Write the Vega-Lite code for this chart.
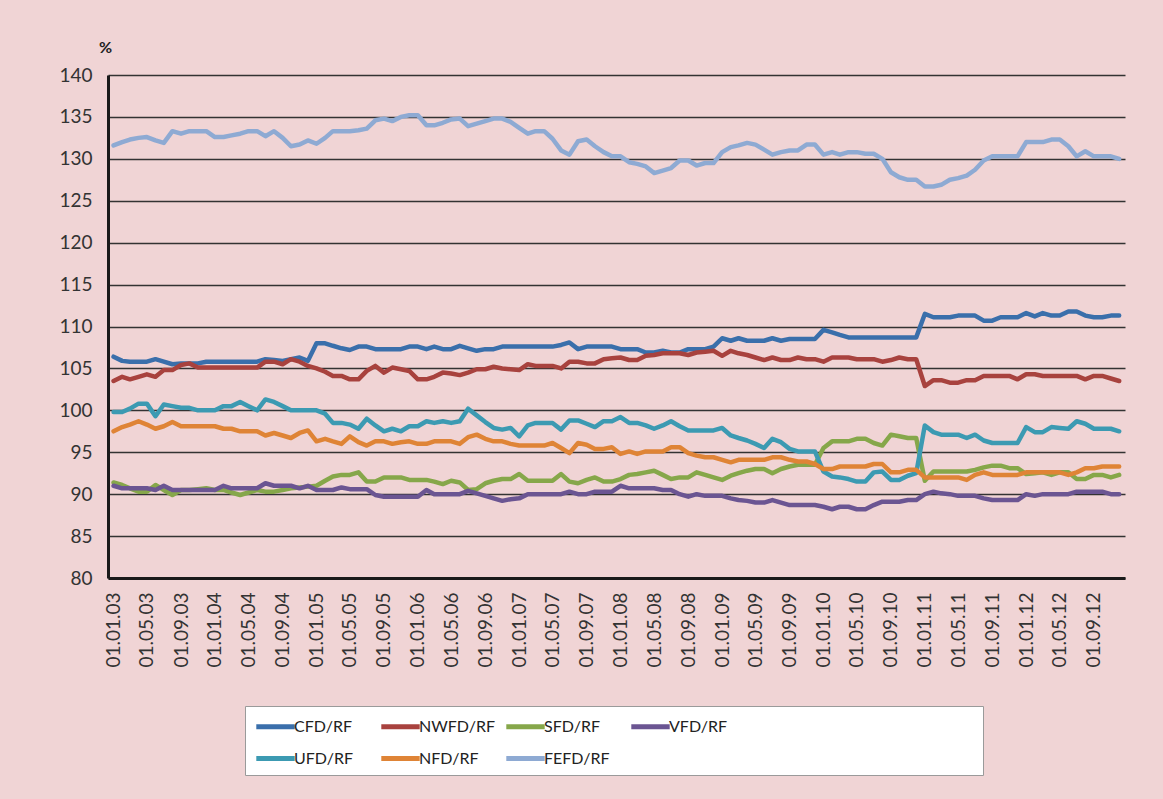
{
"$schema": "https://vega.github.io/schema/vega-lite/v6.json",
"width": 1017, "height": 503,
"autosize": "none",
"padding": {"left": 108, "top": 75, "right": 38, "bottom": 221},
"background": "#F0D4D5",
"view": {"stroke": null},
"config": {"font": "Lato"},
"data": {"values": [
{"d":"2003/01/01","CFD/RF":106.4,"NWFD/RF":103.5,"SFD/RF":91.4,"VFD/RF":91.0,"UFD/RF":99.8,"NFD/RF":97.5,"FEFD/RF":131.6},
{"d":"2003/02/01","CFD/RF":105.9,"NWFD/RF":104.0,"SFD/RF":91.1,"VFD/RF":90.7,"UFD/RF":99.8,"NFD/RF":98.0,"FEFD/RF":132.0},
{"d":"2003/03/01","CFD/RF":105.8,"NWFD/RF":103.7,"SFD/RF":90.7,"VFD/RF":90.7,"UFD/RF":100.2,"NFD/RF":98.3,"FEFD/RF":132.3},
{"d":"2003/04/01","CFD/RF":105.8,"NWFD/RF":104.0,"SFD/RF":90.3,"VFD/RF":90.7,"UFD/RF":100.8,"NFD/RF":98.7,"FEFD/RF":132.5},
{"d":"2003/05/01","CFD/RF":105.8,"NWFD/RF":104.3,"SFD/RF":90.3,"VFD/RF":90.7,"UFD/RF":100.8,"NFD/RF":98.3,"FEFD/RF":132.6},
{"d":"2003/06/01","CFD/RF":106.1,"NWFD/RF":104.0,"SFD/RF":91.1,"VFD/RF":90.5,"UFD/RF":99.3,"NFD/RF":97.8,"FEFD/RF":132.2},
{"d":"2003/07/01","CFD/RF":105.8,"NWFD/RF":104.8,"SFD/RF":90.5,"VFD/RF":91.0,"UFD/RF":100.7,"NFD/RF":98.1,"FEFD/RF":131.9},
{"d":"2003/08/01","CFD/RF":105.5,"NWFD/RF":104.8,"SFD/RF":89.9,"VFD/RF":90.5,"UFD/RF":100.5,"NFD/RF":98.6,"FEFD/RF":133.3},
{"d":"2003/09/01","CFD/RF":105.6,"NWFD/RF":105.4,"SFD/RF":90.5,"VFD/RF":90.5,"UFD/RF":100.3,"NFD/RF":98.1,"FEFD/RF":133.0},
{"d":"2003/10/01","CFD/RF":105.6,"NWFD/RF":105.6,"SFD/RF":90.5,"VFD/RF":90.5,"UFD/RF":100.3,"NFD/RF":98.1,"FEFD/RF":133.3},
{"d":"2003/11/01","CFD/RF":105.6,"NWFD/RF":105.1,"SFD/RF":90.6,"VFD/RF":90.5,"UFD/RF":100.0,"NFD/RF":98.1,"FEFD/RF":133.3},
{"d":"2003/12/01","CFD/RF":105.8,"NWFD/RF":105.1,"SFD/RF":90.7,"VFD/RF":90.5,"UFD/RF":100.0,"NFD/RF":98.1,"FEFD/RF":133.3},
{"d":"2004/01/01","CFD/RF":105.8,"NWFD/RF":105.1,"SFD/RF":90.5,"VFD/RF":90.5,"UFD/RF":100.0,"NFD/RF":98.1,"FEFD/RF":132.6},
{"d":"2004/02/01","CFD/RF":105.8,"NWFD/RF":105.1,"SFD/RF":90.5,"VFD/RF":91.0,"UFD/RF":100.5,"NFD/RF":97.8,"FEFD/RF":132.6},
{"d":"2004/03/01","CFD/RF":105.8,"NWFD/RF":105.1,"SFD/RF":90.2,"VFD/RF":90.7,"UFD/RF":100.5,"NFD/RF":97.8,"FEFD/RF":132.8},
{"d":"2004/04/01","CFD/RF":105.8,"NWFD/RF":105.1,"SFD/RF":89.9,"VFD/RF":90.7,"UFD/RF":101.0,"NFD/RF":97.5,"FEFD/RF":133.0},
{"d":"2004/05/01","CFD/RF":105.8,"NWFD/RF":105.1,"SFD/RF":90.2,"VFD/RF":90.7,"UFD/RF":100.5,"NFD/RF":97.5,"FEFD/RF":133.3},
{"d":"2004/06/01","CFD/RF":105.8,"NWFD/RF":105.1,"SFD/RF":90.5,"VFD/RF":90.7,"UFD/RF":100.0,"NFD/RF":97.5,"FEFD/RF":133.3},
{"d":"2004/07/01","CFD/RF":106.1,"NWFD/RF":105.8,"SFD/RF":90.3,"VFD/RF":91.3,"UFD/RF":101.3,"NFD/RF":97.0,"FEFD/RF":132.7},
{"d":"2004/08/01","CFD/RF":106.0,"NWFD/RF":105.8,"SFD/RF":90.3,"VFD/RF":91.0,"UFD/RF":101.0,"NFD/RF":97.3,"FEFD/RF":133.3},
{"d":"2004/09/01","CFD/RF":105.9,"NWFD/RF":105.5,"SFD/RF":90.5,"VFD/RF":91.0,"UFD/RF":100.5,"NFD/RF":97.0,"FEFD/RF":132.5},
{"d":"2004/10/01","CFD/RF":106.1,"NWFD/RF":106.1,"SFD/RF":90.7,"VFD/RF":91.0,"UFD/RF":100.0,"NFD/RF":96.7,"FEFD/RF":131.5},
{"d":"2004/11/01","CFD/RF":106.3,"NWFD/RF":105.8,"SFD/RF":90.8,"VFD/RF":90.7,"UFD/RF":100.0,"NFD/RF":97.3,"FEFD/RF":131.7},
{"d":"2004/12/01","CFD/RF":105.9,"NWFD/RF":105.3,"SFD/RF":90.9,"VFD/RF":91.0,"UFD/RF":100.0,"NFD/RF":97.6,"FEFD/RF":132.2},
{"d":"2005/01/01","CFD/RF":108.0,"NWFD/RF":105.0,"SFD/RF":91.0,"VFD/RF":90.5,"UFD/RF":100.0,"NFD/RF":96.3,"FEFD/RF":131.8},
{"d":"2005/02/01","CFD/RF":108.0,"NWFD/RF":104.6,"SFD/RF":91.6,"VFD/RF":90.5,"UFD/RF":99.6,"NFD/RF":96.6,"FEFD/RF":132.5},
{"d":"2005/03/01","CFD/RF":107.7,"NWFD/RF":104.1,"SFD/RF":92.1,"VFD/RF":90.5,"UFD/RF":98.5,"NFD/RF":96.3,"FEFD/RF":133.3},
{"d":"2005/04/01","CFD/RF":107.4,"NWFD/RF":104.1,"SFD/RF":92.3,"VFD/RF":90.8,"UFD/RF":98.5,"NFD/RF":96.0,"FEFD/RF":133.3},
{"d":"2005/05/01","CFD/RF":107.2,"NWFD/RF":103.7,"SFD/RF":92.3,"VFD/RF":90.6,"UFD/RF":98.3,"NFD/RF":96.9,"FEFD/RF":133.3},
{"d":"2005/06/01","CFD/RF":107.6,"NWFD/RF":103.7,"SFD/RF":92.6,"VFD/RF":90.6,"UFD/RF":97.8,"NFD/RF":96.2,"FEFD/RF":133.4},
{"d":"2005/07/01","CFD/RF":107.6,"NWFD/RF":104.7,"SFD/RF":91.5,"VFD/RF":90.6,"UFD/RF":99.0,"NFD/RF":95.8,"FEFD/RF":133.6},
{"d":"2005/08/01","CFD/RF":107.3,"NWFD/RF":105.3,"SFD/RF":91.5,"VFD/RF":89.9,"UFD/RF":98.2,"NFD/RF":96.3,"FEFD/RF":134.6},
{"d":"2005/09/01","CFD/RF":107.3,"NWFD/RF":104.5,"SFD/RF":92.0,"VFD/RF":89.7,"UFD/RF":97.5,"NFD/RF":96.3,"FEFD/RF":134.8},
{"d":"2005/10/01","CFD/RF":107.3,"NWFD/RF":105.1,"SFD/RF":92.0,"VFD/RF":89.7,"UFD/RF":97.8,"NFD/RF":96.0,"FEFD/RF":134.5},
{"d":"2005/11/01","CFD/RF":107.3,"NWFD/RF":104.9,"SFD/RF":92.0,"VFD/RF":89.7,"UFD/RF":97.5,"NFD/RF":96.2,"FEFD/RF":135.0},
{"d":"2005/12/01","CFD/RF":107.6,"NWFD/RF":104.7,"SFD/RF":91.7,"VFD/RF":89.7,"UFD/RF":98.1,"NFD/RF":96.3,"FEFD/RF":135.2},
{"d":"2006/01/01","CFD/RF":107.6,"NWFD/RF":103.7,"SFD/RF":91.7,"VFD/RF":89.7,"UFD/RF":98.1,"NFD/RF":96.0,"FEFD/RF":135.2},
{"d":"2006/02/01","CFD/RF":107.3,"NWFD/RF":103.7,"SFD/RF":91.7,"VFD/RF":90.5,"UFD/RF":98.7,"NFD/RF":96.0,"FEFD/RF":134.0},
{"d":"2006/03/01","CFD/RF":107.6,"NWFD/RF":104.0,"SFD/RF":91.5,"VFD/RF":90.0,"UFD/RF":98.5,"NFD/RF":96.3,"FEFD/RF":134.0},
{"d":"2006/04/01","CFD/RF":107.3,"NWFD/RF":104.5,"SFD/RF":91.2,"VFD/RF":90.0,"UFD/RF":98.7,"NFD/RF":96.3,"FEFD/RF":134.3},
{"d":"2006/05/01","CFD/RF":107.3,"NWFD/RF":104.4,"SFD/RF":91.6,"VFD/RF":90.0,"UFD/RF":98.5,"NFD/RF":96.3,"FEFD/RF":134.7},
{"d":"2006/06/01","CFD/RF":107.7,"NWFD/RF":104.2,"SFD/RF":91.4,"VFD/RF":90.0,"UFD/RF":98.7,"NFD/RF":96.0,"FEFD/RF":134.8},
{"d":"2006/07/01","CFD/RF":107.4,"NWFD/RF":104.5,"SFD/RF":90.5,"VFD/RF":90.4,"UFD/RF":100.2,"NFD/RF":96.8,"FEFD/RF":133.9},
{"d":"2006/08/01","CFD/RF":107.1,"NWFD/RF":104.9,"SFD/RF":90.6,"VFD/RF":90.1,"UFD/RF":99.4,"NFD/RF":97.1,"FEFD/RF":134.2},
{"d":"2006/09/01","CFD/RF":107.3,"NWFD/RF":104.9,"SFD/RF":91.3,"VFD/RF":89.8,"UFD/RF":98.6,"NFD/RF":96.6,"FEFD/RF":134.5},
{"d":"2006/10/01","CFD/RF":107.3,"NWFD/RF":105.2,"SFD/RF":91.6,"VFD/RF":89.5,"UFD/RF":97.9,"NFD/RF":96.3,"FEFD/RF":134.8},
{"d":"2006/11/01","CFD/RF":107.6,"NWFD/RF":105.0,"SFD/RF":91.8,"VFD/RF":89.2,"UFD/RF":97.7,"NFD/RF":96.3,"FEFD/RF":134.8},
{"d":"2006/12/01","CFD/RF":107.6,"NWFD/RF":104.9,"SFD/RF":91.8,"VFD/RF":89.4,"UFD/RF":97.9,"NFD/RF":96.0,"FEFD/RF":134.4},
{"d":"2007/01/01","CFD/RF":107.6,"NWFD/RF":104.8,"SFD/RF":92.4,"VFD/RF":89.5,"UFD/RF":96.9,"NFD/RF":95.8,"FEFD/RF":133.7},
{"d":"2007/02/01","CFD/RF":107.6,"NWFD/RF":105.5,"SFD/RF":91.6,"VFD/RF":90.0,"UFD/RF":98.2,"NFD/RF":95.8,"FEFD/RF":133.0},
{"d":"2007/03/01","CFD/RF":107.6,"NWFD/RF":105.3,"SFD/RF":91.6,"VFD/RF":90.0,"UFD/RF":98.5,"NFD/RF":95.8,"FEFD/RF":133.3},
{"d":"2007/04/01","CFD/RF":107.6,"NWFD/RF":105.3,"SFD/RF":91.6,"VFD/RF":90.0,"UFD/RF":98.5,"NFD/RF":95.8,"FEFD/RF":133.3},
{"d":"2007/05/01","CFD/RF":107.6,"NWFD/RF":105.3,"SFD/RF":91.6,"VFD/RF":90.0,"UFD/RF":98.5,"NFD/RF":96.1,"FEFD/RF":132.4},
{"d":"2007/06/01","CFD/RF":107.8,"NWFD/RF":105.0,"SFD/RF":92.4,"VFD/RF":90.0,"UFD/RF":97.7,"NFD/RF":95.5,"FEFD/RF":131.0},
{"d":"2007/07/01","CFD/RF":108.1,"NWFD/RF":105.8,"SFD/RF":91.5,"VFD/RF":90.3,"UFD/RF":98.8,"NFD/RF":94.9,"FEFD/RF":130.5},
{"d":"2007/08/01","CFD/RF":107.3,"NWFD/RF":105.8,"SFD/RF":91.3,"VFD/RF":90.0,"UFD/RF":98.8,"NFD/RF":96.1,"FEFD/RF":132.1},
{"d":"2007/09/01","CFD/RF":107.6,"NWFD/RF":105.6,"SFD/RF":91.7,"VFD/RF":90.0,"UFD/RF":98.4,"NFD/RF":95.9,"FEFD/RF":132.3},
{"d":"2007/10/01","CFD/RF":107.6,"NWFD/RF":105.6,"SFD/RF":92.0,"VFD/RF":90.3,"UFD/RF":98.0,"NFD/RF":95.4,"FEFD/RF":131.5},
{"d":"2007/11/01","CFD/RF":107.6,"NWFD/RF":106.1,"SFD/RF":91.5,"VFD/RF":90.3,"UFD/RF":98.7,"NFD/RF":95.4,"FEFD/RF":130.8},
{"d":"2007/12/01","CFD/RF":107.6,"NWFD/RF":106.2,"SFD/RF":91.5,"VFD/RF":90.3,"UFD/RF":98.7,"NFD/RF":95.6,"FEFD/RF":130.3},
{"d":"2008/01/01","CFD/RF":107.3,"NWFD/RF":106.3,"SFD/RF":91.8,"VFD/RF":91.0,"UFD/RF":99.2,"NFD/RF":94.8,"FEFD/RF":130.3},
{"d":"2008/02/01","CFD/RF":107.3,"NWFD/RF":106.0,"SFD/RF":92.3,"VFD/RF":90.7,"UFD/RF":98.5,"NFD/RF":95.1,"FEFD/RF":129.6},
{"d":"2008/03/01","CFD/RF":107.3,"NWFD/RF":106.0,"SFD/RF":92.4,"VFD/RF":90.7,"UFD/RF":98.5,"NFD/RF":94.8,"FEFD/RF":129.4},
{"d":"2008/04/01","CFD/RF":106.9,"NWFD/RF":106.5,"SFD/RF":92.6,"VFD/RF":90.7,"UFD/RF":98.2,"NFD/RF":95.1,"FEFD/RF":129.1},
{"d":"2008/05/01","CFD/RF":106.9,"NWFD/RF":106.6,"SFD/RF":92.8,"VFD/RF":90.7,"UFD/RF":97.8,"NFD/RF":95.1,"FEFD/RF":128.3},
{"d":"2008/06/01","CFD/RF":107.1,"NWFD/RF":106.8,"SFD/RF":92.3,"VFD/RF":90.5,"UFD/RF":98.2,"NFD/RF":95.1,"FEFD/RF":128.6},
{"d":"2008/07/01","CFD/RF":106.9,"NWFD/RF":106.8,"SFD/RF":91.8,"VFD/RF":90.5,"UFD/RF":98.7,"NFD/RF":95.6,"FEFD/RF":128.9},
{"d":"2008/08/01","CFD/RF":106.9,"NWFD/RF":106.8,"SFD/RF":92.0,"VFD/RF":90.0,"UFD/RF":98.1,"NFD/RF":95.6,"FEFD/RF":129.8},
{"d":"2008/09/01","CFD/RF":107.3,"NWFD/RF":106.6,"SFD/RF":92.0,"VFD/RF":89.7,"UFD/RF":97.6,"NFD/RF":94.9,"FEFD/RF":129.8},
{"d":"2008/10/01","CFD/RF":107.3,"NWFD/RF":106.9,"SFD/RF":92.6,"VFD/RF":90.0,"UFD/RF":97.6,"NFD/RF":94.6,"FEFD/RF":129.2},
{"d":"2008/11/01","CFD/RF":107.3,"NWFD/RF":107.0,"SFD/RF":92.3,"VFD/RF":89.8,"UFD/RF":97.6,"NFD/RF":94.4,"FEFD/RF":129.5},
{"d":"2008/12/01","CFD/RF":107.6,"NWFD/RF":107.1,"SFD/RF":92.0,"VFD/RF":89.8,"UFD/RF":97.6,"NFD/RF":94.4,"FEFD/RF":129.5},
{"d":"2009/01/01","CFD/RF":108.6,"NWFD/RF":106.5,"SFD/RF":91.7,"VFD/RF":89.8,"UFD/RF":97.9,"NFD/RF":94.1,"FEFD/RF":130.8},
{"d":"2009/02/01","CFD/RF":108.3,"NWFD/RF":107.1,"SFD/RF":92.2,"VFD/RF":89.5,"UFD/RF":97.0,"NFD/RF":93.8,"FEFD/RF":131.4},
{"d":"2009/03/01","CFD/RF":108.6,"NWFD/RF":106.8,"SFD/RF":92.5,"VFD/RF":89.3,"UFD/RF":96.7,"NFD/RF":94.1,"FEFD/RF":131.6},
{"d":"2009/04/01","CFD/RF":108.3,"NWFD/RF":106.6,"SFD/RF":92.8,"VFD/RF":89.2,"UFD/RF":96.4,"NFD/RF":94.1,"FEFD/RF":131.9},
{"d":"2009/05/01","CFD/RF":108.3,"NWFD/RF":106.3,"SFD/RF":93.0,"VFD/RF":89.0,"UFD/RF":96.0,"NFD/RF":94.1,"FEFD/RF":131.7},
{"d":"2009/06/01","CFD/RF":108.3,"NWFD/RF":106.0,"SFD/RF":93.0,"VFD/RF":89.0,"UFD/RF":95.5,"NFD/RF":94.1,"FEFD/RF":131.1},
{"d":"2009/07/01","CFD/RF":108.6,"NWFD/RF":106.3,"SFD/RF":92.5,"VFD/RF":89.3,"UFD/RF":96.6,"NFD/RF":94.4,"FEFD/RF":130.5},
{"d":"2009/08/01","CFD/RF":108.3,"NWFD/RF":106.0,"SFD/RF":93.0,"VFD/RF":89.0,"UFD/RF":96.2,"NFD/RF":94.4,"FEFD/RF":130.8},
{"d":"2009/09/01","CFD/RF":108.5,"NWFD/RF":106.0,"SFD/RF":93.3,"VFD/RF":88.7,"UFD/RF":95.4,"NFD/RF":94.1,"FEFD/RF":131.0},
{"d":"2009/10/01","CFD/RF":108.5,"NWFD/RF":106.3,"SFD/RF":93.5,"VFD/RF":88.7,"UFD/RF":95.1,"NFD/RF":93.9,"FEFD/RF":131.0},
{"d":"2009/11/01","CFD/RF":108.5,"NWFD/RF":106.1,"SFD/RF":93.5,"VFD/RF":88.7,"UFD/RF":95.1,"NFD/RF":93.9,"FEFD/RF":131.7},
{"d":"2009/12/01","CFD/RF":108.5,"NWFD/RF":106.1,"SFD/RF":93.5,"VFD/RF":88.7,"UFD/RF":95.1,"NFD/RF":93.6,"FEFD/RF":131.7},
{"d":"2010/01/01","CFD/RF":109.6,"NWFD/RF":105.8,"SFD/RF":95.5,"VFD/RF":88.5,"UFD/RF":92.7,"NFD/RF":93.0,"FEFD/RF":130.5},
{"d":"2010/02/01","CFD/RF":109.3,"NWFD/RF":106.3,"SFD/RF":96.3,"VFD/RF":88.2,"UFD/RF":92.1,"NFD/RF":93.0,"FEFD/RF":130.8},
{"d":"2010/03/01","CFD/RF":109.0,"NWFD/RF":106.3,"SFD/RF":96.3,"VFD/RF":88.5,"UFD/RF":92.0,"NFD/RF":93.3,"FEFD/RF":130.5},
{"d":"2010/04/01","CFD/RF":108.7,"NWFD/RF":106.3,"SFD/RF":96.3,"VFD/RF":88.5,"UFD/RF":91.8,"NFD/RF":93.3,"FEFD/RF":130.8},
{"d":"2010/05/01","CFD/RF":108.7,"NWFD/RF":106.1,"SFD/RF":96.6,"VFD/RF":88.2,"UFD/RF":91.5,"NFD/RF":93.3,"FEFD/RF":130.8},
{"d":"2010/06/01","CFD/RF":108.7,"NWFD/RF":106.1,"SFD/RF":96.6,"VFD/RF":88.2,"UFD/RF":91.5,"NFD/RF":93.3,"FEFD/RF":130.6},
{"d":"2010/07/01","CFD/RF":108.7,"NWFD/RF":106.1,"SFD/RF":96.1,"VFD/RF":88.7,"UFD/RF":92.6,"NFD/RF":93.6,"FEFD/RF":130.6},
{"d":"2010/08/01","CFD/RF":108.7,"NWFD/RF":105.8,"SFD/RF":95.8,"VFD/RF":89.1,"UFD/RF":92.7,"NFD/RF":93.6,"FEFD/RF":130.0},
{"d":"2010/09/01","CFD/RF":108.7,"NWFD/RF":106.0,"SFD/RF":97.1,"VFD/RF":89.1,"UFD/RF":91.7,"NFD/RF":92.6,"FEFD/RF":128.4},
{"d":"2010/10/01","CFD/RF":108.7,"NWFD/RF":106.3,"SFD/RF":96.9,"VFD/RF":89.1,"UFD/RF":91.7,"NFD/RF":92.6,"FEFD/RF":127.8},
{"d":"2010/11/01","CFD/RF":108.7,"NWFD/RF":106.1,"SFD/RF":96.7,"VFD/RF":89.3,"UFD/RF":92.2,"NFD/RF":92.9,"FEFD/RF":127.5},
{"d":"2010/12/01","CFD/RF":108.7,"NWFD/RF":106.1,"SFD/RF":96.7,"VFD/RF":89.3,"UFD/RF":92.5,"NFD/RF":92.9,"FEFD/RF":127.5},
{"d":"2011/01/01","CFD/RF":111.5,"NWFD/RF":102.9,"SFD/RF":91.6,"VFD/RF":90.0,"UFD/RF":98.2,"NFD/RF":92.0,"FEFD/RF":126.7},
{"d":"2011/02/01","CFD/RF":111.1,"NWFD/RF":103.6,"SFD/RF":92.7,"VFD/RF":90.3,"UFD/RF":97.4,"NFD/RF":92.0,"FEFD/RF":126.7},
{"d":"2011/03/01","CFD/RF":111.1,"NWFD/RF":103.6,"SFD/RF":92.7,"VFD/RF":90.1,"UFD/RF":97.1,"NFD/RF":92.0,"FEFD/RF":126.9},
{"d":"2011/04/01","CFD/RF":111.1,"NWFD/RF":103.3,"SFD/RF":92.7,"VFD/RF":90.0,"UFD/RF":97.1,"NFD/RF":92.0,"FEFD/RF":127.5},
{"d":"2011/05/01","CFD/RF":111.3,"NWFD/RF":103.3,"SFD/RF":92.7,"VFD/RF":89.8,"UFD/RF":97.1,"NFD/RF":92.0,"FEFD/RF":127.7},
{"d":"2011/06/01","CFD/RF":111.3,"NWFD/RF":103.6,"SFD/RF":92.7,"VFD/RF":89.8,"UFD/RF":96.7,"NFD/RF":91.7,"FEFD/RF":128.0},
{"d":"2011/07/01","CFD/RF":111.3,"NWFD/RF":103.6,"SFD/RF":92.9,"VFD/RF":89.8,"UFD/RF":97.1,"NFD/RF":92.3,"FEFD/RF":128.7},
{"d":"2011/08/01","CFD/RF":110.7,"NWFD/RF":104.1,"SFD/RF":93.2,"VFD/RF":89.5,"UFD/RF":96.4,"NFD/RF":92.6,"FEFD/RF":129.8},
{"d":"2011/09/01","CFD/RF":110.7,"NWFD/RF":104.1,"SFD/RF":93.4,"VFD/RF":89.3,"UFD/RF":96.1,"NFD/RF":92.3,"FEFD/RF":130.3},
{"d":"2011/10/01","CFD/RF":111.1,"NWFD/RF":104.1,"SFD/RF":93.4,"VFD/RF":89.3,"UFD/RF":96.1,"NFD/RF":92.3,"FEFD/RF":130.3},
{"d":"2011/11/01","CFD/RF":111.1,"NWFD/RF":104.1,"SFD/RF":93.1,"VFD/RF":89.3,"UFD/RF":96.1,"NFD/RF":92.3,"FEFD/RF":130.3},
{"d":"2011/12/01","CFD/RF":111.1,"NWFD/RF":103.7,"SFD/RF":93.1,"VFD/RF":89.3,"UFD/RF":96.1,"NFD/RF":92.3,"FEFD/RF":130.3},
{"d":"2012/01/01","CFD/RF":111.6,"NWFD/RF":104.3,"SFD/RF":92.4,"VFD/RF":90.0,"UFD/RF":98.0,"NFD/RF":92.6,"FEFD/RF":132.0},
{"d":"2012/02/01","CFD/RF":111.2,"NWFD/RF":104.3,"SFD/RF":92.5,"VFD/RF":89.8,"UFD/RF":97.4,"NFD/RF":92.6,"FEFD/RF":132.0},
{"d":"2012/03/01","CFD/RF":111.6,"NWFD/RF":104.1,"SFD/RF":92.6,"VFD/RF":90.0,"UFD/RF":97.4,"NFD/RF":92.6,"FEFD/RF":132.0},
{"d":"2012/04/01","CFD/RF":111.3,"NWFD/RF":104.1,"SFD/RF":92.3,"VFD/RF":90.0,"UFD/RF":98.0,"NFD/RF":92.6,"FEFD/RF":132.3},
{"d":"2012/05/01","CFD/RF":111.3,"NWFD/RF":104.1,"SFD/RF":92.6,"VFD/RF":90.0,"UFD/RF":97.9,"NFD/RF":92.6,"FEFD/RF":132.3},
{"d":"2012/06/01","CFD/RF":111.8,"NWFD/RF":104.1,"SFD/RF":92.6,"VFD/RF":90.0,"UFD/RF":97.8,"NFD/RF":92.3,"FEFD/RF":131.5},
{"d":"2012/07/01","CFD/RF":111.8,"NWFD/RF":104.1,"SFD/RF":91.8,"VFD/RF":90.3,"UFD/RF":98.7,"NFD/RF":92.6,"FEFD/RF":130.3},
{"d":"2012/08/01","CFD/RF":111.3,"NWFD/RF":103.7,"SFD/RF":91.8,"VFD/RF":90.3,"UFD/RF":98.4,"NFD/RF":93.1,"FEFD/RF":130.9},
{"d":"2012/09/01","CFD/RF":111.1,"NWFD/RF":104.1,"SFD/RF":92.3,"VFD/RF":90.3,"UFD/RF":97.8,"NFD/RF":93.1,"FEFD/RF":130.3},
{"d":"2012/10/01","CFD/RF":111.1,"NWFD/RF":104.1,"SFD/RF":92.3,"VFD/RF":90.3,"UFD/RF":97.8,"NFD/RF":93.3,"FEFD/RF":130.3},
{"d":"2012/11/01","CFD/RF":111.3,"NWFD/RF":103.8,"SFD/RF":92.0,"VFD/RF":90.0,"UFD/RF":97.8,"NFD/RF":93.3,"FEFD/RF":130.3},
{"d":"2012/12/01","CFD/RF":111.3,"NWFD/RF":103.5,"SFD/RF":92.3,"VFD/RF":90.0,"UFD/RF":97.5,"NFD/RF":93.3,"FEFD/RF":130.0}
]},
"transform": [{"fold": ["CFD/RF","NWFD/RF","SFD/RF","VFD/RF","UFD/RF","NFD/RF","FEFD/RF"], "as": ["series","value"]}],
"mark": {"type": "line", "strokeWidth": 4.5, "strokeCap": "round", "strokeJoin": "round"},
"encoding": {
  "x": {"field": "d", "type": "temporal",
    "scale": {"domain": [{"year": 2002, "month": 12, "date": 12}, {"year": 2012, "month": 12, "date": 22}], "nice": false},
    "axis": {"title": null, "format": "%d.%m.%y", "tickCount": {"interval": "month", "step": 4}, "labelAngle": 270, "labelAlign": "right", "labelBaseline": "middle", "labelFontSize": 19, "labelColor": "#333333", "labelPadding": 14, "labelOverlap": false, "labelFlush": false, "ticks": false, "grid": false, "domainColor": "#1a1a1a", "domainWidth": 3}},
  "y": {"field": "value", "type": "quantitative",
    "scale": {"domain": [80, 140], "nice": false, "zero": false},
    "axis": {"title": "%", "titleAngle": 0, "titleX": -3, "titleY": -28, "titleAlign": "center", "titleBaseline": "middle", "titleFontSize": 16, "titleFontWeight": "bold", "titleColor": "#222222", "values": [80,85,90,95,100,105,110,115,120,125,130,135,140], "labelFontSize": 19, "labelColor": "#333333", "labelPadding": 16, "ticks": false, "grid": true, "gridColor": "#333333", "gridWidth": 1.6, "domainColor": "#1a1a1a", "domainWidth": 3}},
  "color": {"field": "series", "type": "nominal",
    "sort": ["CFD/RF","NWFD/RF","SFD/RF","VFD/RF","UFD/RF","NFD/RF","FEFD/RF"],
    "scale": {"domain": ["CFD/RF","NWFD/RF","SFD/RF","VFD/RF","UFD/RF","NFD/RF","FEFD/RF"], "range": ["#3A6FAB","#A8423E","#86A74A","#6B5592","#3C9AB2","#DF8436","#8EAAD3"]},
    "legend": {"orient": "none", "legendX": 137, "legendY": 631, "direction": "horizontal", "columns": 4, "title": " ", "titleOrient": "right", "titlePadding": 250, "titleFontSize": 16, "symbolType": "M-1.6,0H1.6", "symbolSize": 576, "symbolStrokeWidth": 5, "symbolOffset": 10, "labelFontSize": 16, "labelColor": "#222222", "labelOffset": 4, "columnPadding": 0, "rowPadding": 7, "gridAlign": "all", "fillColor": "white", "strokeColor": "#9a9a9a", "padding": 6}}
}
}
